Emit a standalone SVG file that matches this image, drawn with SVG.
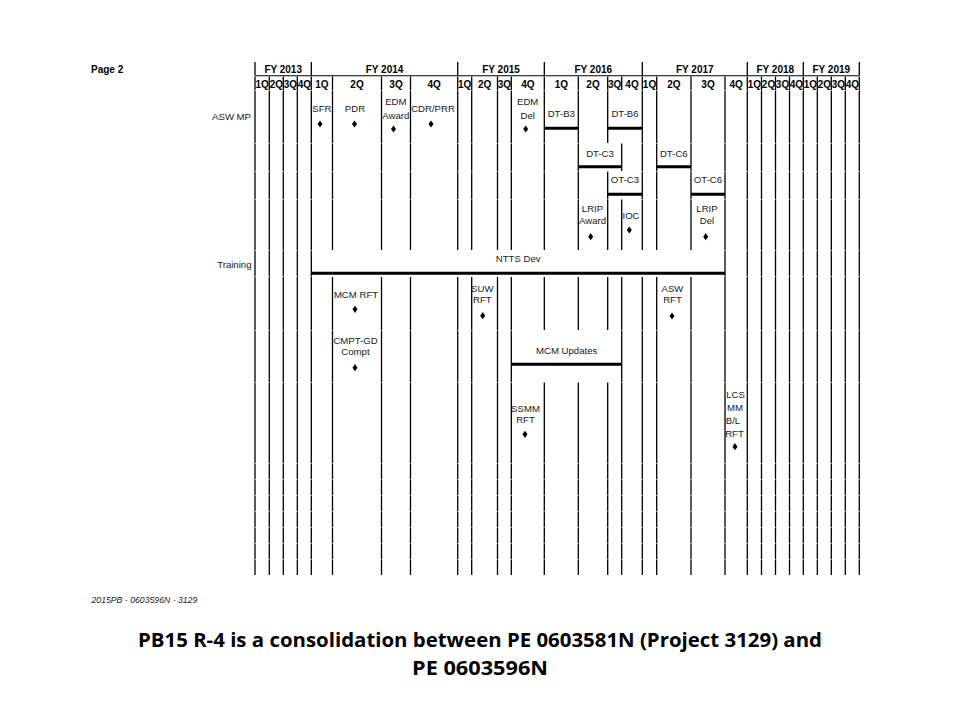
<svg xmlns="http://www.w3.org/2000/svg" width="960" height="720" viewBox="0 0 960 720">
<defs>
<style>
.v{stroke:#000;stroke-width:1.3;fill:none}
.full{stroke-dasharray:13.5 .5 52.5 .5 27.5 .5 27.5 .5 50.5 .5 26 .5 53 .5 51.5 .5 80.5 .5 15.5 .5 16 .5 15.5 .5 15.5 .5 15.5 .5 15.5 .5 15 .5}
.ca{stroke-dasharray:13.5 .5 52.5 .5 27.5 .5 27.5 .5 50.5 27 53 .5 51.5 .5 80.5 .5 15.5 .5 16 .5 15.5 .5 15.5 .5 15.5 .5 15.5 .5 15 .5}
.cb{stroke-dasharray:13.5 .5 52.5 .5 27.5 .5 27.5 .5 50.5 27 53 52.5 80.5 .5 15.5 .5 16 .5 15.5 .5 15.5 .5 15.5 .5 15.5 .5 15 .5}
.cc{stroke-dasharray:13.5 .5 52.5 28.5 27.5 .5 50.5 27 53 52.5 80.5 .5 15.5 .5 16 .5 15.5 .5 15.5 .5 15.5 .5 15.5 .5 15 .5}
.cd{stroke-dasharray:13.5 53.5 27.5 28.5 50.5 27 53 .5 51.5 .5 80.5 .5 15.5 .5 16 .5 15.5 .5 15.5 .5 15.5 .5 15.5 .5 15 .5}
.hb{font-family:"Liberation Sans",Arial,sans-serif;font-weight:bold;font-size:10px;fill:#000;text-anchor:middle}
.t{font-family:"Liberation Sans",Arial,sans-serif;font-size:9.6px;fill:#1a1a1a;text-anchor:middle}
.bar{stroke:#000;stroke-width:3;fill:none}
.tick{stroke:#000;stroke-width:1.3}
</style>
<polygon id="dia" points="0,-3.6 2.5,0 0,3.6 -2.5,0" fill="#000"/>
</defs>
<rect width="960" height="720" fill="#fff"/>

<g id="header">
<text x="91" y="72.5" style="font-family:'Liberation Sans',Arial,sans-serif;font-weight:bold;font-size:10px">Page 2</text>
<g class="tick">
<line x1="255" y1="62" x2="255" y2="75.5"/><line x1="311.3" y1="62" x2="311.3" y2="75.5"/>
<line x1="457.7" y1="62" x2="457.7" y2="75.5"/><line x1="544.3" y1="62" x2="544.3" y2="75.5"/>
<line x1="642.3" y1="62" x2="642.3" y2="75.5"/><line x1="747.3" y1="62" x2="747.3" y2="75.5"/>
<line x1="803.3" y1="62" x2="803.3" y2="75.5"/><line x1="859.3" y1="62" x2="859.3" y2="75.5"/>
</g>
<line x1="255" y1="75.7" x2="859.3" y2="75.7" stroke="#000" stroke-width="1.1"/>
<text class="hb" x="283.2" y="72.5">FY 2013</text>
<text class="hb" x="384.5" y="72.5">FY 2014</text>
<text class="hb" x="501" y="72.5">FY 2015</text>
<text class="hb" x="593.3" y="72.5">FY 2016</text>
<text class="hb" x="694.8" y="72.5">FY 2017</text>
<text class="hb" x="775.3" y="72.5">FY 2018</text>
<text class="hb" x="831.3" y="72.5">FY 2019</text>
<text class="hb" x="262.2" y="87.6">1Q</text><text class="hb" x="276.3" y="87.6">2Q</text><text class="hb" x="290.3" y="87.6">3Q</text><text class="hb" x="304.3" y="87.6">4Q</text>
<text class="hb" x="321.9" y="87.6">1Q</text><text class="hb" x="357" y="87.6">2Q</text><text class="hb" x="396" y="87.6">3Q</text><text class="hb" x="434.1" y="87.6">4Q</text>
<text class="hb" x="464.7" y="87.6">1Q</text><text class="hb" x="484.6" y="87.6">2Q</text><text class="hb" x="504.4" y="87.6">3Q</text><text class="hb" x="527.8" y="87.6">4Q</text>
<text class="hb" x="561.3" y="87.6">1Q</text><text class="hb" x="593" y="87.6">2Q</text><text class="hb" x="614.7" y="87.6">3Q</text><text class="hb" x="632" y="87.6">4Q</text>
<text class="hb" x="649.5" y="87.6">1Q</text><text class="hb" x="673.8" y="87.6">2Q</text><text class="hb" x="708" y="87.6">3Q</text><text class="hb" x="736.2" y="87.6">4Q</text>
<text class="hb" x="754.4" y="87.6">1Q</text><text class="hb" x="768.5" y="87.6">2Q</text><text class="hb" x="782.5" y="87.6">3Q</text><text class="hb" x="796.4" y="87.6">4Q</text>
<text class="hb" x="810.3" y="87.6">1Q</text><text class="hb" x="824.3" y="87.6">2Q</text><text class="hb" x="838.3" y="87.6">3Q</text><text class="hb" x="852.3" y="87.6">4Q</text>
</g>

<g id="grid" class="v">
<line class="full" x1="255" y1="76.5" x2="255" y2="575"/>
<line class="full" x1="269.3" y1="76.5" x2="269.3" y2="575"/>
<line class="full" x1="283.3" y1="76.5" x2="283.3" y2="575"/>
<line class="full" x1="297.3" y1="76.5" x2="297.3" y2="575"/>
<line class="full" x1="311.3" y1="76.5" x2="311.3" y2="575"/>
<line class="ca" x1="332.5" y1="76.5" x2="332.5" y2="575"/>
<line class="ca" x1="381.5" y1="76.5" x2="381.5" y2="575"/>
<line class="ca" x1="410.5" y1="76.5" x2="410.5" y2="575"/>
<line class="ca" x1="457.7" y1="76.5" x2="457.7" y2="575"/>
<line class="ca" x1="471.7" y1="76.5" x2="471.7" y2="575"/>
<line class="ca" x1="497.5" y1="76.5" x2="497.5" y2="575"/>
<line class="ca" x1="511.3" y1="76.5" x2="511.3" y2="575"/>
<line class="cb" x1="544.3" y1="76.5" x2="544.3" y2="575"/>
<line class="cb" x1="578.3" y1="76.5" x2="578.3" y2="575"/>
<line class="cc" x1="607.7" y1="76.5" x2="607.7" y2="575"/>
<line class="cd" x1="621.7" y1="76.5" x2="621.7" y2="575"/>
<line class="ca" x1="642.3" y1="76.5" x2="642.3" y2="575"/>
<line class="ca" x1="656.7" y1="76.5" x2="656.7" y2="575"/>
<line class="ca" x1="691" y1="76.5" x2="691" y2="575"/>
<line class="full" x1="725" y1="76.5" x2="725" y2="575"/>
<line class="full" x1="747.3" y1="76.5" x2="747.3" y2="575"/>
<line class="full" x1="761.5" y1="76.5" x2="761.5" y2="575"/>
<line class="full" x1="775.5" y1="76.5" x2="775.5" y2="575"/>
<line class="full" x1="789.5" y1="76.5" x2="789.5" y2="575"/>
<line class="full" x1="803.3" y1="76.5" x2="803.3" y2="575"/>
<line class="full" x1="817.3" y1="76.5" x2="817.3" y2="575"/>
<line class="full" x1="831.3" y1="76.5" x2="831.3" y2="575"/>
<line class="full" x1="845.3" y1="76.5" x2="845.3" y2="575"/>
<line class="full" x1="859.3" y1="76.5" x2="859.3" y2="575"/>
</g>

<g id="row-labels">
<text x="251" y="120.2" style="font-family:'Liberation Sans',Arial,sans-serif;font-size:9.6px;fill:#1a1a1a;text-anchor:end">ASW MP</text>
<text x="251.5" y="267.5" style="font-family:'Liberation Sans',Arial,sans-serif;font-size:9.6px;fill:#1a1a1a;text-anchor:end">Training</text>
</g>

<g id="sfr"><text class="t" x="321.9" y="112">SFR</text><use href="#dia" x="320" y="124"/></g>
<g id="pdr"><text class="t" x="355" y="112">PDR</text><use href="#dia" x="354.5" y="124"/></g>
<g id="edm-award"><text class="t" x="395.8" y="105">EDM</text><text class="t" x="395.8" y="118.7">Award</text><use href="#dia" x="393.5" y="129"/></g>
<g id="cdr-prr"><text class="t" x="433" y="112">CDR/PRR</text><use href="#dia" x="431" y="124"/></g>
<g id="edm-del"><text class="t" x="527.7" y="105">EDM</text><text class="t" x="527.7" y="118.7">Del</text><use href="#dia" x="525.7" y="129"/></g>
<g id="dt-b3"><text class="t" x="561.3" y="117.4">DT-B3</text><line class="bar" x1="544.3" y1="128.3" x2="578.3" y2="128.3"/></g>
<g id="dt-b6"><text class="t" x="625" y="117.4">DT-B6</text><line class="bar" x1="607.7" y1="128.3" x2="642.3" y2="128.3"/></g>
<g id="dt-c3"><text class="t" x="600" y="156.7">DT-C3</text><line class="bar" x1="578.3" y1="166.7" x2="621.7" y2="166.7"/></g>
<g id="dt-c6"><text class="t" x="673.8" y="156.7">DT-C6</text><line class="bar" x1="656.7" y1="166.7" x2="691" y2="166.7"/></g>
<g id="ot-c3"><text class="t" x="625" y="183.4">OT-C3</text><line class="bar" x1="607.7" y1="194.3" x2="642.3" y2="194.3"/></g>
<g id="ot-c6"><text class="t" x="708" y="183.4">OT-C6</text><line class="bar" x1="691" y1="194.3" x2="725" y2="194.3"/></g>
<g id="lrip-award"><text class="t" x="592.5" y="212.4">LRIP</text><text class="t" x="592.5" y="224.4">Award</text><use href="#dia" x="590.7" y="236.7"/></g>
<g id="ioc"><text class="t" x="631" y="218.7">IOC</text><use href="#dia" x="629.3" y="230"/></g>
<g id="lrip-del"><text class="t" x="707" y="212.4">LRIP</text><text class="t" x="707" y="224.4">Del</text><use href="#dia" x="705.7" y="236.7"/></g>
<g id="ntts-dev"><text class="t" x="518.2" y="261.7">NTTS Dev</text><line class="bar" x1="311.3" y1="273.3" x2="725" y2="273.3"/></g>
<g id="mcm-rft"><text class="t" x="356" y="298.4">MCM RFT</text><use href="#dia" x="355" y="309.3"/></g>
<g id="suw-rft"><text class="t" x="482.3" y="292.4">SUW</text><text class="t" x="482.3" y="303">RFT</text><use href="#dia" x="482.7" y="315.7"/></g>
<g id="asw-rft"><text class="t" x="672.5" y="292.4">ASW</text><text class="t" x="672.5" y="303.4">RFT</text><use href="#dia" x="672" y="316"/></g>
<g id="cmpt-gd"><text class="t" x="355.5" y="344.4">CMPT-GD</text><text class="t" x="355.5" y="355">Compt</text><use href="#dia" x="355" y="367.7"/></g>
<g id="mcm-updates"><text class="t" x="566.7" y="354">MCM Updates</text><line class="bar" x1="511.3" y1="364.3" x2="621.7" y2="364.3"/></g>
<g id="ssmm-rft"><text class="t" x="525.5" y="412.4">SSMM</text><text class="t" x="525.5" y="423.4">RFT</text><use href="#dia" x="525" y="434.3"/></g>
<g id="lcs-mm"><text class="t" x="735.5" y="398.4">LCS</text><text class="t" x="735" y="411.2">MM</text><text class="t" x="733" y="424">B/L</text><text class="t" x="734.5" y="436.8">RFT</text><use href="#dia" x="735" y="446.7"/></g>

<g id="footer">
<text x="91.5" y="603" style="font-family:'Liberation Sans',Arial,sans-serif;font-style:italic;font-size:8.7px;fill:#1a1a1a">2015PB - 0603596N - 3129</text>
</g>
<g id="title">
<text x="480" y="647" textLength="684" lengthAdjust="spacingAndGlyphs" style="font-family:'Open Sans','Noto Sans',sans-serif;font-weight:bold;font-size:20px;fill:#000;text-anchor:middle">PB15 R-4 is a consolidation between PE 0603581N (Project 3129) and</text>
<text x="480" y="675" textLength="136" lengthAdjust="spacingAndGlyphs" style="font-family:'Open Sans','Noto Sans',sans-serif;font-weight:bold;font-size:20px;fill:#000;text-anchor:middle">PE 0603596N</text>
</g>
</svg>
